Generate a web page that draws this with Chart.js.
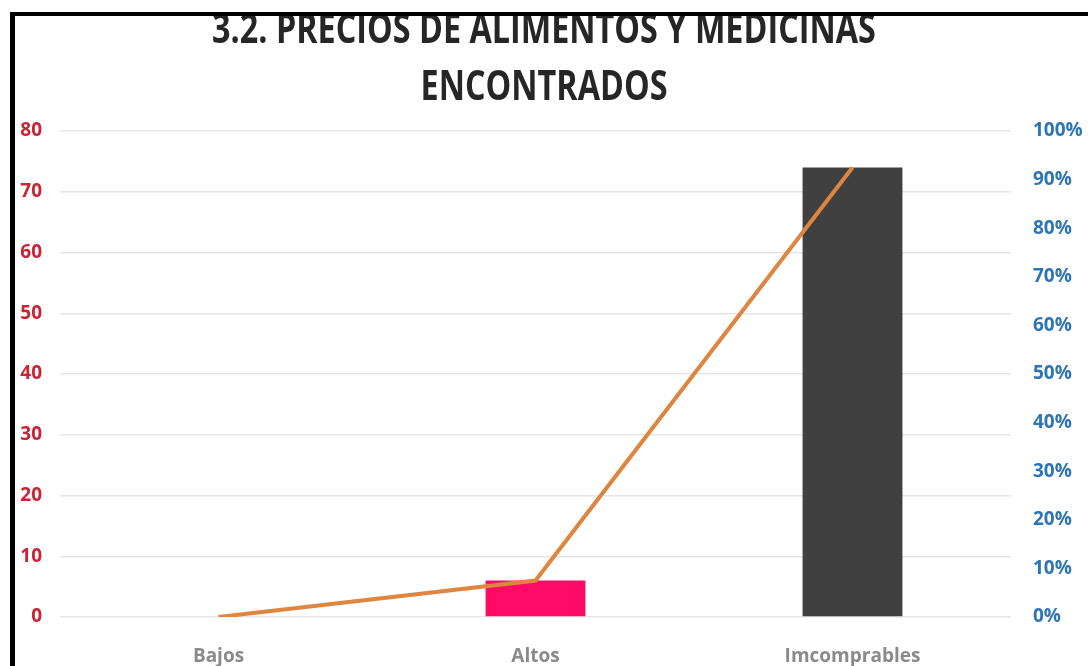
<!DOCTYPE html>
<html>
<head>
<meta charset="utf-8">
<script src="https://cdn.jsdelivr.net/npm/chart.js@4.4.0/dist/chart.umd.min.js"></script>
<style>
  html, body { margin: 0; padding: 0; background: #fff; }
  #wrap { position: relative; width: 1088px; height: 666px; overflow: hidden; }
  #title {
    position: absolute; left: 0; top: -2px; width: 1088px; text-align: center;
    font-family: "Open Sans", sans-serif; font-weight: bold; font-size: 42px; line-height: 57px;
    color: #262626; transform: scaleX(0.77); transform-origin: 544px 0; z-index: 1;
  }
  #frame {
    position: absolute; left: 10px; top: 12px; width: 1073px; height: 700px;
    border-left: 5px solid #000; border-top: 4px solid #000; border-right: 5px solid #000;
    pointer-events: none; z-index: 2;
  }
</style>
</head>
<body>
<div id="wrap">
  <canvas id="myChart" width="1088" height="666"></canvas>
  <div id="title">3.2. PRECIOS DE ALIMENTOS Y MEDICINAS<br>ENCONTRADOS</div>
  <div id="frame"></div>
</div>
<script>
const categories = ['Bajos', 'Altos', 'Imcomprables'];
const cantidades = [0, 6, 74];
const porcentajes = [0, 7.5, 92.5];
const barColors = ['#FF0A64', '#FF0A64', '#404040'];

const FONT = '"Open Sans", sans-serif';

const renderChart = () => {
    var ctx = document.getElementById('myChart').getContext('2d');
    new Chart(ctx, {
        type: 'bar',
        data: {
            labels: categories,
            datasets: [{
                type: 'line',
                data: porcentajes,
                yAxisID: 'y1',
                borderColor: '#DE8640',
                borderWidth: 4,
                pointRadius: 0,
                tension: 0,
                order: 0
            }, {
                type: 'bar',
                data: cantidades,
                yAxisID: 'y',
                backgroundColor: barColors,
                categoryPercentage: 1,
                barPercentage: 0.315,
                order: 1
            }]
        },
        options: {
            responsive: false,
            animation: false,
            layout: { padding: { top: 131 } },
            plugins: {
                legend: { display: false },
                tooltip: { enabled: false },
                title: { display: false }
            },
            scales: {
                x: {
                    grid: { display: false },
                    border: { display: false },
                    ticks: {
                        color: '#8a8a8a',
                        padding: 20,
                        font: { family: FONT, size: 19, weight: 'bold' }
                    },
                    afterFit: (s) => { s.height = 49; }
                },
                y: {
                    position: 'left',
                    min: 0, max: 80,
                    ticks: {
                        stepSize: 10,
                        color: '#CC2233',
                        padding: 18,
                        font: { family: FONT, size: 19, weight: 'bold' }
                    },
                    grid: { color: '#e6e6e6', lineWidth: 1.5, drawTicks: false },
                    border: { display: false },
                    afterFit: (s) => { s.width = 60; }
                },
                y1: {
                    position: 'right',
                    min: 0, max: 100,
                    ticks: {
                        stepSize: 10,
                        color: '#2E75B6',
                        padding: 22,
                        font: { family: FONT, size: 19, weight: 'bold' },
                        callback: (v) => v + '%'
                    },
                    grid: { display: false, drawTicks: false },
                    border: { display: false },
                    afterFit: (s) => { s.width = 77; }
                }
            }
        }
    });
};

renderChart();
</script>
</body>
</html>
